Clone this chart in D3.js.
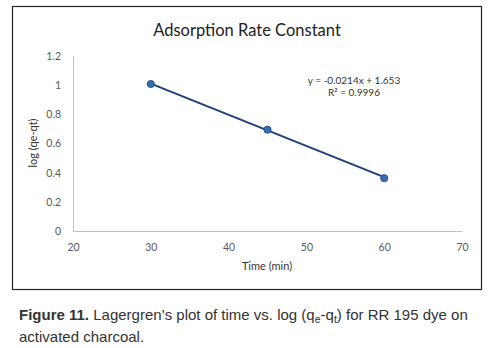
<!DOCTYPE html>
<html>
<head>
<meta charset="utf-8">
<script src="https://cdn.jsdelivr.net/npm/d3@7"></script>
<style>
  body { margin: 0; background: #fff; }
  svg text { font-family: Lato, "Open Sans", sans-serif; }
</style>
</head>
<body>
<div id="chart"></div>
<script>
const times = [30, 45, 60];
const logValues = [1.008, 0.695, 0.362];
const xTicks = [20, 30, 40, 50, 60, 70];
const yTicks = [0, 0.2, 0.4, 0.6, 0.8, 1, 1.2];
const slope = -0.0214;
const intercept = 1.653;
const equationLabels = ['y = -0.0214x + 1.653', 'R² = 0.9996'];

const data = times.map((t, i) => ({ time: t, value: logValues[i] }));

const width = 495, height = 348;
const plot = { left: 73, right: 462, top: 56, bottom: 231 };

const svg = d3.select('#chart').append('svg')
  .attr('width', width)
  .attr('height', height);

// chart frame
svg.append('rect')
  .attr('x', 12.5).attr('y', 6.5)
  .attr('width', 469).attr('height', 283)
  .attr('fill', '#fff')
  .attr('stroke', '#222')
  .attr('stroke-width', 1.2);

const x = d3.scaleLinear().domain([20, 70]).range([plot.left, plot.right]);
const y = d3.scaleLinear().domain([0, 1.2]).range([plot.bottom, plot.top]);

// axes
const xAxis = svg.append('g')
  .attr('transform', `translate(0, ${plot.bottom})`)
  .call(d3.axisBottom(x).tickValues(xTicks).tickSize(0).tickPadding(13).tickFormat(d3.format('d')));
const yAxis = svg.append('g')
  .attr('transform', `translate(${plot.left}, 0)`)
  .call(d3.axisLeft(y).tickValues(yTicks).tickSize(0).tickPadding(12).tickFormat(d => d));

[xAxis, yAxis].forEach(g => {
  g.select('.domain').attr('stroke', '#bfbfbf').attr('stroke-width', 1);
  g.selectAll('text').attr('fill', '#595959').style('font-size', '10.5px');
});

// trendline
const x0 = d3.min(times), x1 = d3.max(times);
svg.append('line')
  .attr('x1', x(x0)).attr('y1', y(slope * x0 + intercept))
  .attr('x2', x(x1)).attr('y2', y(slope * x1 + intercept))
  .attr('stroke', '#1f3f7a')
  .attr('stroke-width', 2);

// points
svg.selectAll('circle.pt')
  .data(data)
  .join('circle')
  .attr('class', 'pt')
  .attr('cx', d => x(d.time))
  .attr('cy', d => y(d.value))
  .attr('r', 3.6)
  .attr('fill', '#3a6cb0')
  .attr('stroke', '#2a5597')
  .attr('stroke-width', 1);

// title
svg.append('text')
  .attr('x', 247).attr('y', 36)
  .attr('text-anchor', 'middle')
  .attr('fill', '#222')
  .style('font-size', '16.5px')
  .text('Adsorption Rate Constant');

// axis titles
svg.append('text')
  .attr('x', 267).attr('y', 270)
  .attr('text-anchor', 'middle')
  .attr('fill', '#333')
  .style('font-size', '11px')
  .text('Time (min)');

svg.append('text')
  .attr('transform', 'translate(37, 143) rotate(-90)')
  .attr('text-anchor', 'middle')
  .attr('fill', '#333')
  .style('font-size', '11px')
  .text('log (qe-qt)');

// equation
svg.selectAll('text.eq')
  .data(equationLabels)
  .join('text')
  .attr('class', 'eq')
  .attr('x', 354)
  .attr('y', (d, i) => 84 + i * 12)
  .attr('text-anchor', 'middle')
  .attr('fill', '#333')
  .style('font-size', '10px')
  .text(d => d);

// caption
const cap = svg.append('text')
  .attr('x', 19).attr('y', 320)
  .attr('fill', '#333')
  .style('font-family', '"Liberation Sans", Arial, sans-serif')
  .style('font-size', '15px');
cap.append('tspan').attr('font-weight', 'bold').text('Figure 11.');
cap.append('tspan').text(' Lagergren’s plot of time vs. log (q');
cap.append('tspan').attr('dy', 3).style('font-size', '10.5px').text('e');
cap.append('tspan').attr('dy', -3).text('-q');
cap.append('tspan').attr('dy', 3).style('font-size', '10.5px').text('t');
cap.append('tspan').attr('dy', -3).text(') for RR 195 dye on');

svg.append('text')
  .attr('x', 19).attr('y', 342)
  .attr('fill', '#333')
  .style('font-family', '"Liberation Sans", Arial, sans-serif')
  .style('font-size', '15px')
  .text('activated charcoal.');
</script>
</body>
</html>
